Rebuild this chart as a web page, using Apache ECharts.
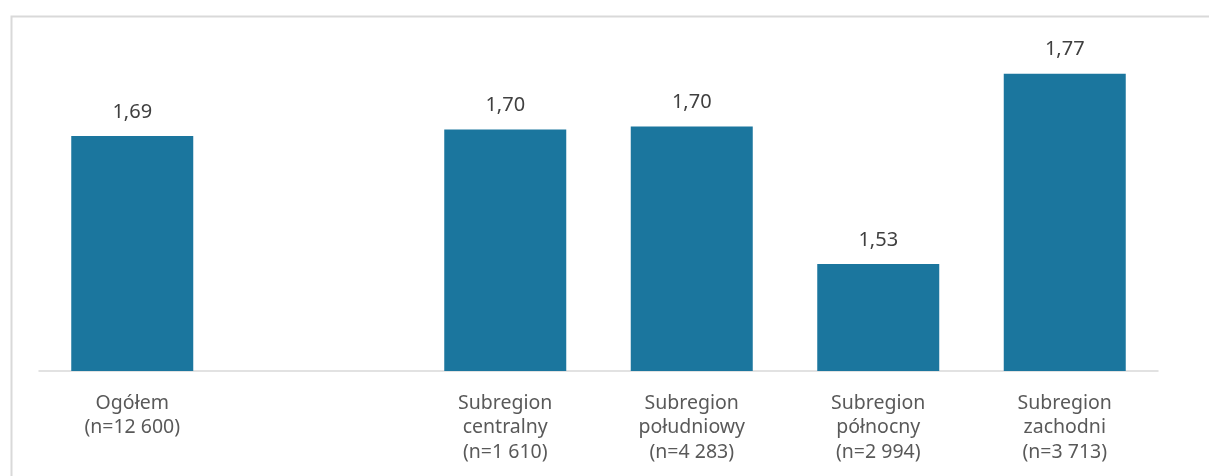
<!DOCTYPE html>
<html>
<head>
<meta charset="utf-8">
<script src="https://cdn.jsdelivr.net/npm/echarts@6/dist/echarts.min.js"></script>
<style>
html,body{margin:0;padding:0;background:#fff;}
#c{width:1209px;height:476px;}
</style>
</head>
<body>
<div id="c"></div>
<script>
const categories = [
  "Ogółem\n(n=12 600)",
  "",
  "Subregion\ncentralny\n(n=1 610)",
  "Subregion\npołudniowy\n(n=4 283)",
  "Subregion\npółnocny\n(n=2 994)",
  "Subregion\nzachodni\n(n=3 713)"
];
const values = [1.690, null, 1.698, 1.702, 1.532, 1.767];

const chart = echarts.init(document.getElementById('c'), null, {renderer: 'canvas'});
chart.setOption({
  animation: false,
  backgroundColor: '#ffffff',
  graphic: [{
    type: 'rect',
    left: 9, top: 14,
    shape: {x: 0, y: 0, width: 1400, height: 600},
    style: {fill: 'none', stroke: '#d9d9d9', lineWidth: 2},
    silent: true
  }],
  grid: {left: 39, right: 51, top: 47, bottom: 105, containLabel: false},
  xAxis: {
    type: 'category',
    data: categories,
    axisLine: {show: true, lineStyle: {color: '#d9d9d9', width: 1.5}},
    axisTick: {show: false},
    axisLabel: {
      interval: 0,
      color: '#595959',
      fontFamily: 'Noto Sans',
      fontSize: 19.5,
      lineHeight: 24.5,
      margin: 20
    }
  },
  yAxis: {
    type: 'value',
    min: 1.4,
    max: 1.8,
    show: false,
    splitLine: {show: false}
  },
  series: [{
    type: 'bar',
    data: values,
    barWidth: 122,
    itemStyle: {color: '#1b769e'},
    label: {
      show: true,
      position: 'top',
      distance: 14,
      color: '#404040',
      fontFamily: 'Noto Sans',
      fontSize: 20,
      formatter: p => p.value == null ? '' : p.value.toFixed(2).replace('.', ',')
    }
  }]
});
</script>
</body>
</html>
